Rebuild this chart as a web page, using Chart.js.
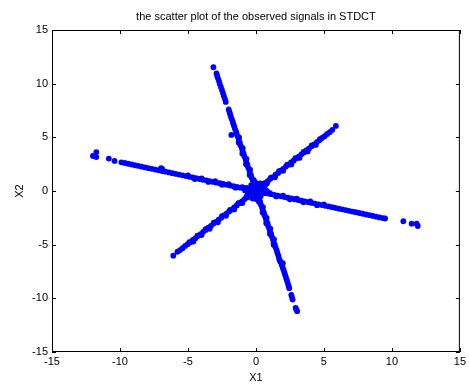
<!DOCTYPE html>
<html>
<head>
<meta charset="utf-8">
<script src="https://cdn.jsdelivr.net/npm/chart.js@4"></script>
<style>
  html, body { margin: 0; padding: 0; background: #fff; }
  canvas { display: block; }
</style>
</head>
<body>
<canvas id="chart" width="469" height="385"></canvas>
<script>
// values, [X1, X2]
const diagLine = [
  [-6.08,-6.03],[-5.77,-5.66],[-5.58,-5.50],[-5.40,-5.33],[-5.21,-5.12],[-5.02,-4.95],[-4.83,-4.78],[-4.64,-4.55],
  [-4.45,-4.40],[-4.26,-4.18],[-4.07,-4.01],[-3.88,-3.80],[-3.69,-3.63],[-3.50,-3.42],[-3.31,-3.26],[-3.12,-3.03],
  [-2.93,-2.87],[-2.74,-2.66],[-2.55,-2.50],[-2.36,-2.27],[-2.17,-2.11],[-1.98,-1.90],[-1.79,-1.73],[-1.60,-1.52],
  [-1.41,-1.35],[-1.22,-1.13],[-1.03,-0.97],[-0.84,-0.76],[-0.65,-0.60],[-0.46,-0.38],[-0.27,-0.22],[-0.08,0.01],
  [0.11,0.16],[0.30,0.38],[0.49,0.54],[0.68,0.76],[0.87,0.92],[1.06,1.14],[1.25,1.30],[1.44,1.52],
  [1.63,1.68],[1.82,1.90],[2.01,2.06],[2.20,2.28],[2.39,2.44],[2.58,2.66],[2.77,2.82],[2.96,3.04],
  [3.15,3.20],[3.34,3.42],[3.53,3.58],[3.72,3.80],[3.91,3.96],[4.10,4.18],[4.29,4.34],[4.48,4.56],
  [4.67,4.72],[4.86,4.94],[5.05,5.10],[5.24,5.31],[5.43,5.48],[5.62,5.70],[5.88,6.06],
  [-4.90,-4.76],[-4.60,-4.71],[-4.30,-4.16],[-4.00,-4.11],[-3.70,-3.55],[-3.40,-3.52],[-3.10,-2.95],[-2.80,-2.92],
  [-2.50,-2.35],[-2.20,-2.31],[-1.90,-1.76],[-1.60,-1.72],[-1.30,-1.14],[-1.00,-1.12],[-0.70,-0.55],[-0.40,-0.52],
  [-0.10,0.05],[0.20,0.08],[0.50,0.66],[0.80,0.69],[1.10,1.25],[1.40,1.28],[1.70,1.86],[2.00,1.88],
  [2.30,2.45],[2.60,2.48],[2.90,3.05],[3.20,3.08],[3.50,3.64],[3.80,3.69],[4.10,4.24],[4.40,4.29],[4.70,4.83]
];

const steepLine = [
  [-3.13,11.53],[-2.90,10.95],[-2.85,10.72],[-2.79,10.50],[-2.72,10.24],[-2.66,9.98],[-2.58,9.70],[-2.50,9.42],
  [-2.43,9.14],[-2.36,8.86],[-2.28,8.58],[-2.22,8.30],
  [-2.00,7.60],[-1.95,7.38],[-1.90,7.15],[-1.84,6.92],[-1.77,6.68],[-1.70,6.44],[-1.65,6.20],[-1.81,5.22],
  [-1.59,6.00],[-1.53,5.75],[-1.45,5.50],[-1.40,5.25],[-1.31,5.00],[-1.26,4.75],[-1.18,4.50],[-1.13,4.25],
  [-1.04,4.00],[-0.99,3.75],[-0.91,3.50],[-0.86,3.25],[-0.77,3.00],[-0.72,2.75],[-0.64,2.50],[-0.59,2.25],
  [-0.50,2.00],[-0.45,1.75],[-0.37,1.50],[-0.32,1.25],[-0.23,1.00],[-0.18,0.75],[-0.10,0.50],[-0.05,0.25],
  [0.03,0.00],[0.09,-0.25],[0.17,-0.50],[0.22,-0.75],[0.31,-1.00],[0.36,-1.25],[0.44,-1.50],[0.49,-1.75],
  [0.58,-2.00],[0.63,-2.25],[0.71,-2.50],[0.76,-2.75],[0.85,-3.00],[0.90,-3.25],[0.98,-3.50],[1.03,-3.75],
  [1.12,-4.00],[1.17,-4.25],[1.25,-4.50],[1.30,-4.75],[1.39,-5.00],[1.44,-5.25],[1.52,-5.50],[1.57,-5.75],[1.65,-6.00],
  [-1.24,5.00],[-1.27,4.50],[-0.97,4.00],[-1.00,3.50],[-0.70,3.00],[-0.73,2.50],[-0.43,2.00],[-0.46,1.50],
  [-0.16,1.00],[-0.19,0.50],[0.25,-0.50],[0.22,-1.00],[0.52,-1.50],[0.49,-2.00],[0.79,-2.50],[0.76,-3.00],
  [1.06,-3.50],[1.03,-4.00],[1.33,-4.50],[1.30,-5.00],
  [1.70,-6.28],[1.76,-6.50],[1.81,-6.62],[1.98,-6.72],[1.90,-6.90],[1.97,-7.15],[2.04,-7.38],[2.10,-7.62],
  [2.16,-7.86],[2.22,-8.10],[2.28,-8.34],[2.34,-8.58],[2.40,-8.82],[2.45,-9.05],
  [2.60,-9.68],[2.65,-9.90],[2.70,-10.12],[2.92,-10.88],[2.97,-11.05],[3.03,-11.20]
];

const shallowLine = [
  [-11.99,3.26],[-11.74,3.63],[-11.74,3.17],[-10.82,3.02],[-10.40,2.80],
  [-9.90,2.67],[-9.65,2.61],[-9.40,2.54],[-9.15,2.47],[-8.90,2.40],[-8.65,2.34],[-8.40,2.27],[-8.15,2.20],
  [-7.90,2.13],[-7.65,2.07],[-7.40,2.00],[-7.15,1.93],[-6.98,2.14],[-6.90,2.06],[-6.90,1.86],[-6.65,1.80],
  [-6.40,1.73],[-6.15,1.66],[-5.90,1.59],[-5.65,1.53],[-5.40,1.46],[-5.15,1.39],[-4.90,1.32],[-4.65,1.26],
  [-4.40,1.19],[-4.15,1.12],[-3.90,1.05],[-3.65,0.99],[-3.40,0.92],[-3.15,0.85],[-2.90,0.78],[-2.65,0.72],
  [-2.40,0.65],[-2.15,0.58],[-1.90,0.51],[-1.65,0.45],[-1.40,0.38],[-1.15,0.31],[-0.90,0.24],[-0.65,0.18],
  [-0.40,0.11],[0.35,-0.09],[0.60,-0.16],[0.85,-0.23],[1.10,-0.30],[1.35,-0.36],[1.60,-0.43],[1.85,-0.50],
  [2.10,-0.57],[2.35,-0.63],[2.60,-0.70],[2.85,-0.77],[3.10,-0.84],[3.35,-0.90],[3.60,-0.97],[3.85,-1.04],
  [4.10,-1.11],[4.35,-1.17],[4.60,-1.24],[4.85,-1.31],[5.10,-1.38],[5.35,-1.44],[5.60,-1.51],[5.85,-1.58],
  [6.10,-1.65],[6.35,-1.71],[6.60,-1.78],[6.85,-1.85],[7.10,-1.92],[7.35,-1.98],[7.60,-2.05],[7.85,-2.12],
  [8.10,-2.19],[8.35,-2.25],[8.60,-2.32],[8.85,-2.39],[9.10,-2.46],[9.35,-2.52],[9.50,-2.56],
  [-5.00,1.45],[-4.50,1.12],[-4.00,1.18],[-3.50,0.85],[-3.00,0.91],[-2.50,0.58],[-2.00,0.64],[-1.50,0.31],
  [-1.00,0.37],[1.00,-0.17],[1.50,-0.51],[2.00,-0.44],[2.50,-0.78],[3.00,-0.71],[3.50,-1.05],[4.00,-0.98],
  [4.50,-1.32],[5.00,-1.25],
  [10.84,-2.82],[11.45,-3.04],[11.90,-3.26],[11.82,-3.04]
];

const centreBlob = [
  [0.00,0.00],[0.25,0.20],[-0.30,-0.15],[0.20,-0.35],[-0.20,0.40],[0.50,-0.10],[-0.55,0.20],[0.10,0.55],
  [-0.10,-0.55],[0.45,0.40],[-0.45,-0.40],[0.60,0.25],[-0.60,-0.10],[0.35,-0.50],[-0.35,0.55],[0.05,0.25],
  [-0.15,0.05],[0.15,-0.15],[0.70,-0.20],[-0.70,0.30],[-0.25,-0.70],[0.30,0.70],[-0.65,-0.45],[0.65,0.50],
  [-0.80,0.05],[0.80,0.00],[0.00,-0.75],[-0.05,0.80]
];

const xTicks = [-15, -10, -5, 0, 5, 10, 15];
const yTicks = [-15, -10, -5, 0, 5, 10, 15];
const titleText = 'the scatter plot of the observed signals in STDCT';
const xTitle = 'X1';
const yTitle = 'X2';

const FONT = 'Liberation Sans, Arial, Helvetica, sans-serif';

// MATLAB-style box with inward ticks, plus the title centred over the axes
const boxTicks = {
  id: 'boxTicks',
  afterDraw(chart) {
    const { ctx, chartArea: a, scales: { x, y } } = chart;
    ctx.save();
    ctx.strokeStyle = '#000';
    ctx.lineWidth = 1;
    ctx.strokeRect(a.left + 0.5, a.top + 0.5, a.right - a.left - 1, a.bottom - a.top - 1);
    ctx.beginPath();
    xTicks.forEach(v => {
      const px = Math.round(x.getPixelForValue(v)) + 0.5;
      ctx.moveTo(px, a.bottom); ctx.lineTo(px, a.bottom - 4);
      ctx.moveTo(px, a.top); ctx.lineTo(px, a.top + 4);
    });
    yTicks.forEach(v => {
      const py = Math.round(y.getPixelForValue(v)) + 0.5;
      ctx.moveTo(a.left, py); ctx.lineTo(a.left + 4, py);
      ctx.moveTo(a.right, py); ctx.lineTo(a.right - 4, py);
    });
    ctx.stroke();
    ctx.fillStyle = '#000';
    ctx.font = '11px ' + FONT;
    ctx.textAlign = 'center';
    ctx.textBaseline = 'middle';
    ctx.fillText(titleText, (a.left + a.right) / 2, 17);
    ctx.restore();
  }
};

const allPoints = [].concat(diagLine, steepLine, shallowLine, centreBlob)
  .map(([px, py]) => ({ x: px, y: py }));

new Chart(document.getElementById('chart'), {
  type: 'scatter',
  data: {
    datasets: [{
      label: 'observed signals',
      data: allPoints,
      backgroundColor: '#0000ff',
      borderWidth: 0,
      pointRadius: 2.9,
      pointHoverRadius: 2.9,
    }],
  },
  options: {
    responsive: false,
    devicePixelRatio: 1,
    animation: false,
    events: [],
    layout: { padding: { top: 30, right: 7, left: 0, bottom: 0 } },
    plugins: {
      legend: { display: false },
      tooltip: { enabled: false },
      title: { display: false },
    },
    scales: {
      x: {
        type: 'linear',
        min: -15,
        max: 15,
        afterBuildTicks: s => { s.ticks = xTicks.map(v => ({ value: v })); },
        afterFit: s => { s.height = 33; },
        grid: { display: false, drawTicks: false },
        border: { display: false },
        ticks: { padding: 3, color: '#000', font: { family: FONT, size: 11 } },
        title: { display: true, text: xTitle, color: '#000', padding: 0, font: { family: FONT, size: 11 } },
      },
      y: {
        type: 'linear',
        min: -15,
        max: 15,
        afterBuildTicks: s => { s.ticks = yTicks.map(v => ({ value: v })); },
        afterFit: s => { s.width = 52; },
        grid: { display: false, drawTicks: false },
        border: { display: false },
        ticks: { padding: 4, color: '#000', font: { family: FONT, size: 11 } },
        title: { display: true, text: yTitle, color: '#000', padding: { top: 13, bottom: 0 }, font: { family: FONT, size: 11 } },
      },
    },
  },
  plugins: [boxTicks],
});
</script>
</body>
</html>
